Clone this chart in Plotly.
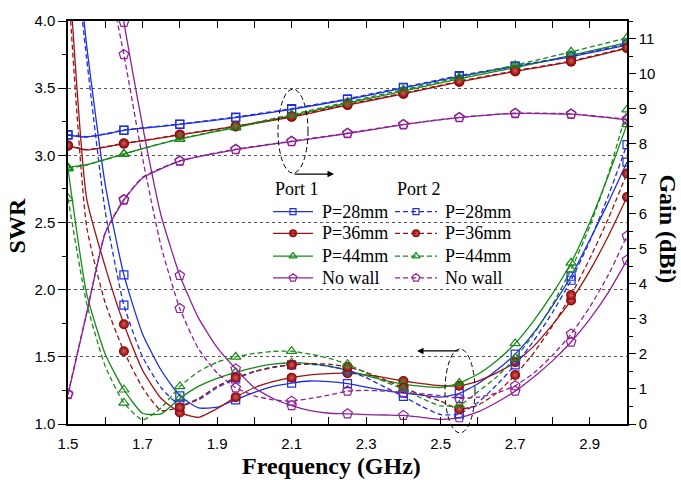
import plotly.graph_objects as go

# ---------------------------------------------------------------- data
# Frequency grid of the SWR curves (GHz)
freq = [1.50, 1.55, 1.60, 1.65, 1.70, 1.75, 1.80, 1.85, 1.90, 1.95,
        2.00, 2.05, 2.10, 2.15, 2.20, 2.25, 2.30, 2.35, 2.40, 2.45,
        2.50, 2.55, 2.60, 2.65, 2.70, 2.75, 2.80, 2.85, 2.90, 2.95, 3.00]
# Frequency grid of the gain curves (GHz)
freq_gain = [1.50, 1.55, 1.60, 1.65, 1.70, 1.80, 1.95, 2.10, 2.25, 2.40,
             2.55, 2.70, 2.85, 3.00]
# Frequencies carrying a symbol
marker_freq = [1.50, 1.65, 1.80, 1.95, 2.10, 2.25, 2.40, 2.55, 2.70, 2.85, 3.00]

labels = ["P=28mm", "P=36mm", "P=44mm", "No wall"]

# SWR, port 1
swr_p28_port1 = [5.20, 3.82, 2.78, 2.11, 1.67, 1.40, 1.21, 1.12, 1.125, 1.18,
                 1.235, 1.28, 1.305, 1.32, 1.315, 1.30, 1.275, 1.25, 1.23, 1.215,
                 1.20, 1.228, 1.30, 1.40, 1.52, 1.68, 1.88, 2.10, 2.37, 2.65, 2.95]
swr_p36_port1 = [4.50, 2.68, 2.17, 1.743, 1.40, 1.19, 1.085, 1.05, 1.115, 1.20,
                 1.27, 1.315, 1.345, 1.365, 1.375, 1.378, 1.365, 1.345, 1.32, 1.30,
                 1.285, 1.285, 1.32, 1.38, 1.46, 1.58, 1.74, 1.92, 2.14, 2.40, 2.69]
swr_p44_port1 = [2.90, 1.97, 1.52, 1.255, 1.08, 1.075, 1.19, 1.28, 1.34, 1.385,
                 1.42, 1.445, 1.456, 1.45, 1.43, 1.40, 1.36, 1.325, 1.297, 1.28,
                 1.272, 1.305, 1.37, 1.47, 1.60, 1.77, 1.97, 2.20, 2.50, 2.85, 3.23]
swr_nowall_port1 = [7.00, 5.95, 4.90, 3.99, 3.22, 2.55, 2.106, 1.79, 1.57, 1.41,
                    1.27, 1.19, 1.137, 1.10, 1.08, 1.076, 1.07, 1.067, 1.064, 1.05,
                    1.035, 1.047, 1.09, 1.16, 1.245, 1.35, 1.47, 1.61, 1.78, 1.98, 2.22]

# SWR, port 2
swr_p28_port2 = [5.00, 3.72, 2.58, 1.885, 1.50, 1.27, 1.14, 1.18, 1.27, 1.335,
                 1.39, 1.425, 1.44, 1.445, 1.43, 1.40, 1.345, 1.275, 1.205, 1.13,
                 1.07, 1.075, 1.16, 1.29, 1.44, 1.62, 1.83, 2.07, 2.36, 2.70, 3.08]
swr_p36_port2 = [4.30, 2.47, 1.90, 1.542, 1.27, 1.10, 1.125, 1.19, 1.28, 1.345,
                 1.39, 1.42, 1.44, 1.45, 1.445, 1.425, 1.385, 1.33, 1.27, 1.215,
                 1.17, 1.11, 1.14, 1.23, 1.365, 1.53, 1.73, 1.96, 2.23, 2.53, 2.865]
swr_p44_port2 = [2.68, 1.90, 1.43, 1.157, 1.03, 1.12, 1.28, 1.39, 1.46, 1.50,
                 1.525, 1.54, 1.542, 1.52, 1.49, 1.445, 1.38, 1.315, 1.26, 1.19,
                 1.135, 1.14, 1.24, 1.35, 1.49, 1.67, 1.89, 2.15, 2.47, 2.86, 3.34]
swr_nowall_port2 = [6.50, 5.45, 4.45, 3.75, 2.98, 2.32, 1.86, 1.56, 1.38, 1.27,
                    1.21, 1.18, 1.17, 1.19, 1.215, 1.245, 1.25, 1.245, 1.235, 1.225,
                    1.21, 1.19, 1.20, 1.23, 1.285, 1.38, 1.51, 1.67, 1.87, 2.11, 2.40]

# Gain (dBi), port 1
gain_p28_port1 = [8.24, 8.19, 8.27, 8.38, 8.44, 8.55, 8.74, 8.98, 9.26, 9.59, 9.92, 10.20, 10.48, 10.81]
gain_p36_port1 = [7.94, 7.82, 7.90, 8.00, 8.08, 8.25, 8.49, 8.76, 9.10, 9.42, 9.76, 10.06, 10.34, 10.72]
gain_p44_port1 = [7.32, 7.40, 7.55, 7.71, 7.86, 8.13, 8.46, 8.80, 9.16, 9.50, 9.85, 10.17, 10.52, 10.88]
gain_nowall_port1 = [0.84, 3.15, 5.45, 6.39, 7.02, 7.50, 7.83, 8.06, 8.29, 8.54, 8.74, 8.86, 8.84, 8.68]

# Gain (dBi), port 2
gain_p28_port2 = [8.26, 8.20, 8.28, 8.39, 8.45, 8.56, 8.76, 9.00, 9.28, 9.61, 9.94, 10.22, 10.50, 10.84]
gain_p36_port2 = [7.95, 7.83, 7.91, 8.01, 8.09, 8.26, 8.50, 8.78, 9.12, 9.44, 9.78, 10.08, 10.36, 10.74]
gain_p44_port2 = [7.30, 7.39, 7.54, 7.70, 7.86, 8.14, 8.48, 8.83, 9.19, 9.54, 9.89, 10.24, 10.62, 11.02]
gain_nowall_port2 = [0.86, 3.18, 5.47, 6.41, 7.04, 7.51, 7.84, 8.07, 8.30, 8.55, 8.75, 8.87, 8.85, 8.70]

swr = {
    "port1": [swr_p28_port1, swr_p36_port1, swr_p44_port1, swr_nowall_port1],
    "port2": [swr_p28_port2, swr_p36_port2, swr_p44_port2, swr_nowall_port2],
}
gain = {
    "port1": [gain_p28_port1, gain_p36_port1, gain_p44_port1, gain_nowall_port1],
    "port2": [gain_p28_port2, gain_p36_port2, gain_p44_port2, gain_nowall_port2],
}

# ---------------------------------------------------------------- styles
STYLE = {
    "P=28mm": dict(color="#1f2fe0", symbol="square-open", size=8),
    "P=36mm": dict(color="#9b1313", symbol="circle", size=10),
    "P=44mm": dict(color="#178a17", symbol="triangle-up-open", size=9),
    "No wall": dict(color="#8e2198", symbol="pentagon-open", size=10),
}
DASH = {"port1": "solid", "port2": "5px,3px"}
SERIF = "Liberation Serif"
SANS = "Liberation Sans"


def marker_style(label, size=None):
    st = STYLE[label]
    sz = size if size is not None else st["size"]
    if st["symbol"] == "circle":
        return dict(symbol="circle", size=sz, color="#8b0000",
                    gradient=dict(type="radial", color="#d06060"),
                    line=dict(width=0))
    return dict(symbol=st["symbol"], size=sz, color=st["color"],
                line=dict(width=1.2, color=st["color"]))


def pick(xs, ys, wanted):
    lookup = dict(zip(xs, ys))
    return [lookup[f] for f in wanted]


fig = go.Figure()

for port in ("port1", "port2"):
    for i, label in enumerate(labels):
        color = STYLE[label]["color"]
        line = dict(color=color, width=1.3, dash=DASH[port],
                    shape="spline", smoothing=0.5)
        # SWR (left axis)
        fig.add_trace(go.Scatter(x=freq, y=swr[port][i], mode="lines",
                                 line=line, hoverinfo="skip"))
        fig.add_trace(go.Scatter(x=marker_freq,
                                 y=pick(freq, swr[port][i], marker_freq),
                                 mode="markers", marker=marker_style(label)))
        # Gain (right axis)
        fig.add_trace(go.Scatter(x=freq_gain, y=gain[port][i], mode="lines",
                                 line=line, yaxis="y2", hoverinfo="skip"))
        fig.add_trace(go.Scatter(x=marker_freq,
                                 y=pick(freq_gain, gain[port][i], marker_freq),
                                 mode="markers", marker=marker_style(label),
                                 yaxis="y2"))

# ---------------------------------------------------------------- layout
ML, MR, MT, MB = 68, 54, 16, 56
W, H = 681, 480
PW, PH = W - ML - MR, H - MT - MB


def px(x):
    return (x - ML) / PW


def py(y):
    return (MT + PH - y) / PH


tick_font = dict(family=SANS, size=15, color="black")

fig.update_layout(
    width=W, height=H,
    margin=dict(l=ML, r=MR, t=MT, b=MB, pad=0),
    paper_bgcolor="white", plot_bgcolor="white",
    showlegend=False,
    xaxis=dict(range=[1.5, 3.0], tick0=1.5, dtick=0.2, tickformat=".1f",
               ticks="inside", ticklen=7, tickwidth=1.2, tickcolor="black",
               ticklabelstandoff=5,
               showline=True, linecolor="black", linewidth=1.5,
               mirror="allticks", showgrid=False, zeroline=False,
               tickfont=tick_font,
               minor=dict(tick0=1.5, dtick=0.1, ticks="inside", ticklen=5,
                          tickwidth=1.2, tickcolor="black")),
    yaxis=dict(range=[1.0, 4.0], tick0=1.0, dtick=0.5, tickformat=".1f",
               ticks="outside", ticklen=8, tickwidth=1.2, tickcolor="black",
               showline=True, linecolor="black", linewidth=1.5,
               showgrid=True, gridcolor="#555555", griddash="3px,3px",
               gridwidth=1, zeroline=False, tickfont=tick_font,
               minor=dict(tick0=1.0, dtick=0.25, ticks="outside", ticklen=4,
                          tickwidth=1.2, tickcolor="black")),
    yaxis2=dict(overlaying="y", side="right", range=[0, 11.5], tick0=0,
                dtick=1, ticks="outside", ticklen=7, tickwidth=1.2,
                tickcolor="black", showline=True, linecolor="black",
                linewidth=1.5, showgrid=False, zeroline=False,
                tickfont=tick_font,
                minor=dict(tick0=0, dtick=0.5, ticks="outside", ticklen=4,
                           tickwidth=1.2, tickcolor="black")),
    # unit axes used for placing the key symbols
    xaxis2=dict(overlaying="x", range=[0, 1], visible=False),
    yaxis3=dict(overlaying="y", range=[0, 1], visible=False),
)

annotations = [
    dict(text="<b>SWR</b>", x=px(17), y=py(224), textangle=-90,
         font=dict(family=SERIF, size=24, color="black")),
    dict(text="<b>Frequency (GHz)</b>", x=px(331), y=py(467),
         font=dict(family=SERIF, size=24, color="black")),
    dict(text="<b>Gain (dBi)</b>", x=px(668), y=py(226), textangle=90,
         font=dict(family=SERIF, size=24, color="black")),
]
for a in annotations:
    a.update(xref="paper", yref="paper", showarrow=False,
             xanchor="center", yanchor="middle")

# ---------------------------------------------------------------- key
key_font = dict(family=SERIF, size=18, color="black")
row_y = [209, 231, 254, 276]
columns = {
    "port1": dict(title="Port 1", x0=273, x1=313, text_x=320),
    "port2": dict(title="Port 2", x0=395, x1=437, text_x=443),
}
shapes = []
for port, col in columns.items():
    annotations.append(dict(text=col["title"], x=px(col["x0"]), y=py(186),
                            xref="paper", yref="paper", showarrow=False,
                            xanchor="left", yanchor="middle", font=key_font))
    for label, ry in zip(labels, row_y):
        color = STYLE[label]["color"]
        shapes.append(dict(type="line", xref="paper", yref="paper",
                           x0=px(col["x0"]), x1=px(col["x1"]),
                           y0=py(ry), y1=py(ry),
                           line=dict(color=color, width=1.3, dash=DASH[port])))
        fig.add_trace(go.Scatter(x=[px((col["x0"] + col["x1"]) / 2)],
                                 y=[py(ry)], xaxis="x2", yaxis="y3",
                                 mode="markers", cliponaxis=False,
                                 marker=marker_style(label,
                                                     STYLE[label]["size"] - 2),
                                 hoverinfo="skip"))
        annotations.append(dict(text=label, x=px(col["text_x"]), y=py(ry),
                                xref="paper", yref="paper", showarrow=False,
                                xanchor="left", yanchor="middle",
                                font=key_font))

# dashed ellipses marking the curve groups, with pointer arrows
ellipse_line = dict(color="black", width=1, dash="5px,3px")
shapes.append(dict(type="circle", xref="paper", yref="paper",
                   x0=px(278), x1=px(308), y0=py(170), y1=py(85),
                   line=ellipse_line))
shapes.append(dict(type="circle", xref="paper", yref="paper",
                   x0=px(445), x1=px(475), y0=py(433), y1=py(348),
                   line=ellipse_line))
annotations.append(dict(x=px(334), y=py(171), xref="paper", yref="paper",
                        ax=-41, ay=0, text="", showarrow=True, arrowhead=2,
                        arrowsize=1, arrowwidth=1.3, arrowcolor="black"))
annotations.append(dict(x=px(417), y=py(350), xref="paper", yref="paper",
                        ax=43, ay=0, text="", showarrow=True, arrowhead=2,
                        arrowsize=1, arrowwidth=1.3, arrowcolor="black"))

fig.update_layout(annotations=annotations, shapes=shapes)

fig.write_html("out.html")
